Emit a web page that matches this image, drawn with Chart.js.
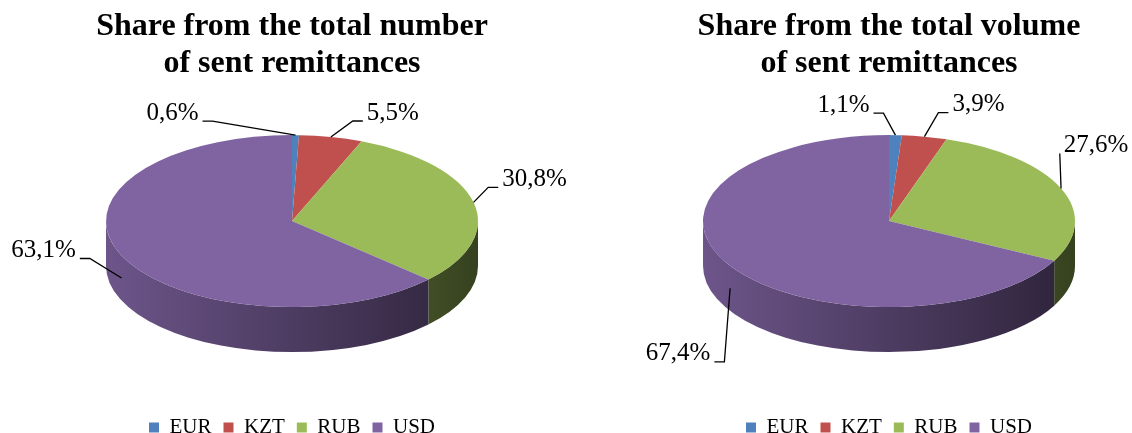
<!DOCTYPE html>
<html>
<head>
<meta charset="utf-8">
<script src="https://cdn.jsdelivr.net/npm/chart.js@4.4.1/dist/chart.umd.min.js"></script>
<style>
  body { margin: 0; background: #fff; }
  #wrap { position: relative; width: 1132px; height: 433px; }
  canvas { position: absolute; top: 0; }
  #countChart { left: 0; }
  #volumeChart { left: 646px; }
</style>
</head>
<body>
<div id="wrap">
  <canvas id="countChart" width="584" height="433"></canvas>
  <canvas id="volumeChart" width="486" height="433"></canvas>
</div>
<script>
// data
const currencies = ['EUR', 'KZT', 'RUB', 'USD'];
const countShares = [0.6, 5.5, 30.8, 63.1];
const volumeShares = [1.1, 3.9, 27.6, 67.4];
const sliceColors = ['#4F81BD', '#C0504D', '#9BBB59', '#8064A2'];

const serif = "'Liberation Serif', 'Times New Roman', serif";
Chart.defaults.font.family = serif;
Chart.defaults.color = '#000';

function shade(hex, k) {
    const n = parseInt(hex.slice(1), 16);
    const r = Math.round(((n >> 16) & 255) * k);
    const g = Math.round(((n >> 8) & 255) * k);
    const b = Math.round((n & 255) * k);
    return `rgb(${r},${g},${b})`;
}

function fmt(v) {
    return v.toFixed(1).replace('.', ',') + '%';
}

// fake 3D: squash the library arcs into an ellipse and paint the side walls under them
const pie3d = {
    id: 'pie3d',
    beforeDatasetsDraw(chart, args, opts) {
        const ctx = chart.ctx;
        const arcs = chart.getDatasetMeta(0).data;
        const R = arcs[0].outerRadius;
        const cx = arcs[0].x;
        const cy = arcs[0].y - opts.depth / 2;
        const colors = chart.data.datasets[0].backgroundColor;

        // side walls, only the front half is visible
        arcs.forEach((arc, i) => {
            const a1 = Math.max(arc.startAngle, 0);
            const a2 = Math.min(arc.endAngle, Math.PI);
            if (a2 <= a1) return;
            const grad = ctx.createLinearGradient(cx - opts.rx, 0, cx + opts.rx, 0);
            grad.addColorStop(0, shade(colors[i], 0.85));
            grad.addColorStop(1, shade(colors[i], 0.35));
            ctx.beginPath();
            ctx.ellipse(cx, cy, opts.rx, opts.ry, 0, a1, a2);
            ctx.ellipse(cx, cy + opts.depth, opts.rx, opts.ry, 0, a2, a1, true);
            ctx.closePath();
            ctx.fillStyle = grad;
            ctx.fill();
        });

        ctx.save();
        ctx.translate(cx, cy);
        ctx.scale(opts.rx / R, opts.ry / R);
        ctx.translate(-arcs[0].x, -arcs[0].y);
    },
    afterDatasetsDraw(chart, args, opts) {
        const ctx = chart.ctx;
        ctx.restore();

        const arcs = chart.getDatasetMeta(0).data;
        const cx = arcs[0].x;
        const cy = arcs[0].y - opts.depth / 2;
        const values = chart.data.datasets[0].data;

        ctx.save();
        ctx.font = `25px ${serif}`;
        ctx.fillStyle = '#000';
        ctx.strokeStyle = '#000';
        ctx.lineWidth = 1.3;
        ctx.textAlign = 'center';
        ctx.textBaseline = 'middle';

        arcs.forEach((arc, i) => {
            const mid = (arc.startAngle + arc.endAngle) / 2;
            const ax = cx + opts.rx * Math.cos(mid);
            let ay = cy + opts.ry * Math.sin(mid);
            const [dx, dy] = opts.labelOffsets[i];
            const lx = ax + dx, ly = ay + dy;
            if (Math.sin(mid) > 0) ay += opts.depth / 2;

            const text = fmt(values[i]);
            const w = ctx.measureText(text).width;
            ctx.fillText(text, lx, ly);

            // leader line from the label to the slice
            const side = ax < lx ? -1 : 1;
            const px = lx + side * (w / 2 + 4);
            const py = ly + 8;
            ctx.beginPath();
            ctx.moveTo(px, py);
            if ((ax - px) * side > 10) ctx.lineTo(px + side * 10, py);
            ctx.lineTo(ax, ay);
            ctx.stroke();
        });
        ctx.restore();
    }
};

function makePie(id, title, values, labelOffsets) {
    return new Chart(document.getElementById(id), {
        type: 'pie',
        data: {
            labels: currencies,
            datasets: [{
                data: values,
                backgroundColor: sliceColors,
                borderWidth: 0,
                clip: false
            }]
        },
        options: {
            responsive: false,
            animation: false,
            events: [],
            layout: { padding: { top: 0, bottom: -15, left: 0, right: 0 } },
            plugins: {
                title: {
                    display: true,
                    text: title,
                    color: '#000',
                    font: { family: serif, size: 32, weight: 'bold', lineHeight: 1.16 },
                    padding: { top: 8, bottom: 0 }
                },
                legend: {
                    position: 'bottom',
                    labels: {
                        boxWidth: 10,
                        boxHeight: 10,
                        padding: 12,
                        color: '#000',
                        font: { family: serif, size: 21 }
                    }
                },
                tooltip: { enabled: false },
                pie3d: { rx: 186, ry: 86, depth: 45, labelOffsets: labelOffsets }
            }
        },
        plugins: [pie3d]
    });
}

makePie('countChart', ['Share from the total number', 'of sent remittances'], countShares,
    [[-123, -22], [62, -24], [61, -23], [-78, -5]]);
makePie('volumeChart', ['Share from the total volume', 'of sent remittances'], volumeShares,
    [[-52, -30], [54, -32], [35, -43], [-52, 88]]);
</script>
</body>
</html>
